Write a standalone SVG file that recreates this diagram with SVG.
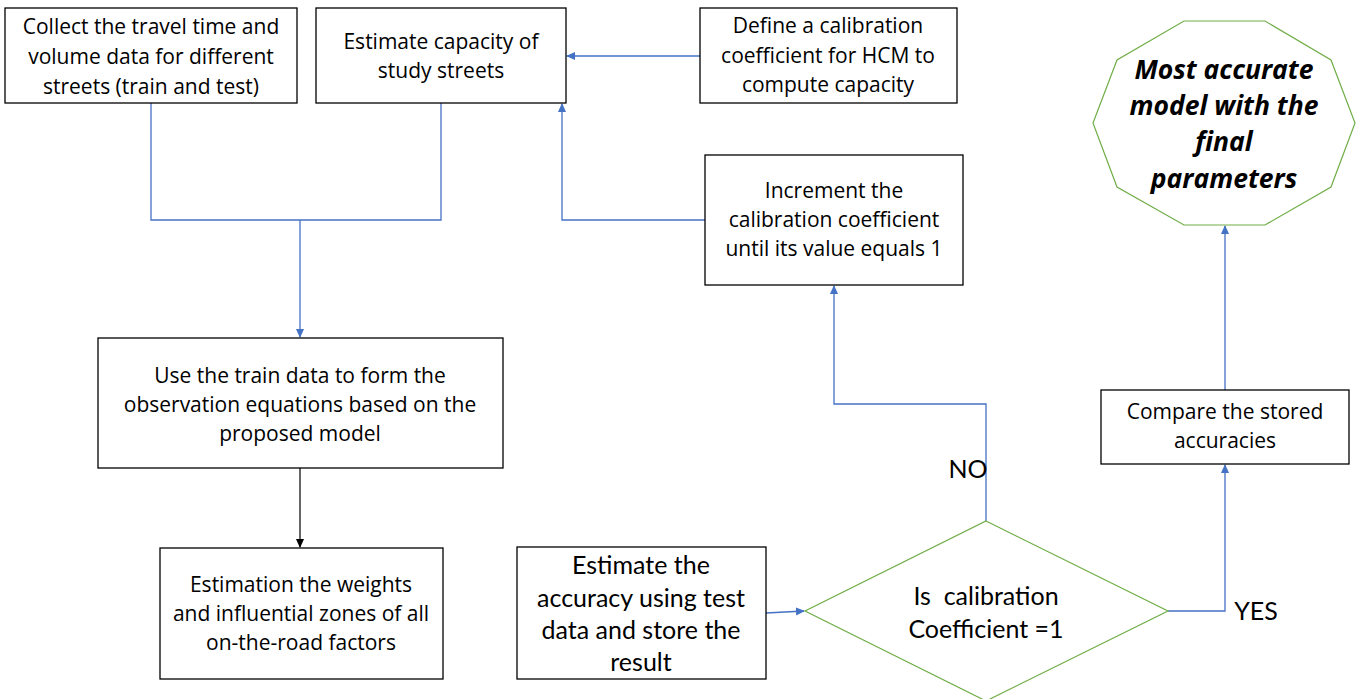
<svg xmlns="http://www.w3.org/2000/svg" width="1360" height="699" viewBox="0 0 1360 699">
<defs>
<style>
.box{fill:#fff;stroke:#000;stroke-width:1.3}
.shape{fill:#fff;stroke:#70ad47;stroke-width:1.2}
.t{font-family:"Open Sans","Liberation Sans",sans-serif;font-size:21px;fill:#000;text-anchor:middle}
.n{font-family:Lato,"Liberation Sans",sans-serif;font-size:25px;fill:#000;text-anchor:middle;white-space:pre}
.b{font-family:"Open Sans","Liberation Sans",sans-serif;font-size:26.5px;font-weight:bold;font-style:italic;fill:#000;text-anchor:middle}
.c{fill:none;stroke:#4472c4;stroke-width:1.3}
.k{fill:none;stroke:#000;stroke-width:1.2}
</style>
<marker id="ab" markerWidth="10" markerHeight="10" refX="8" refY="4" orient="auto" markerUnits="userSpaceOnUse"><path d="M0,0 L9,4 L0,8 z" fill="#4472c4"/></marker>
<marker id="ak" markerWidth="10" markerHeight="10" refX="8" refY="4" orient="auto" markerUnits="userSpaceOnUse"><path d="M0,0 L9,4 L0,8 z" fill="#000"/></marker>
</defs>
<g id="connectors">
<polyline class="c" points="151,103 151,220 441,220 441,103"/>
<polyline class="c" points="300,220 300,337" marker-end="url(#ab)"/>
<polyline class="c" points="700,56 567,56" marker-end="url(#ab)"/>
<polyline class="c" points="705,220 562,220 562,104" marker-end="url(#ab)"/>
<polyline class="k" points="300,468 300,547" marker-end="url(#ak)"/>
<polyline class="c" points="766,613 804,611" marker-end="url(#ab)"/>
<polyline class="c" points="986,521 986,404 834,404 834,286" marker-end="url(#ab)"/>
<polyline class="c" points="1168,611 1225,611 1225,465" marker-end="url(#ab)"/>
<polyline class="c" points="1225,390 1225,226" marker-end="url(#ab)"/>
<text class="n" x="968" y="478">NO</text>
<text class="n" x="1256" y="620">YES</text>
</g>
<g id="collect">
<rect class="box" x="5" y="8" width="292" height="95"/>
<text class="t" x="151" y="34">Collect the travel time and</text>
<text class="t" x="151" y="64">volume data for different</text>
<text class="t" x="151" y="94">streets (train and test)</text>
</g>
<g id="estimate-capacity">
<rect class="box" x="316" y="8" width="250" height="95"/>
<text class="t" x="441" y="49">Estimate capacity of</text>
<text class="t" x="441" y="78">study streets</text>
</g>
<g id="define">
<rect class="box" x="700" y="8" width="257" height="95"/>
<text class="t" x="828" y="33">Define a calibration</text>
<text class="t" x="828" y="63">coefficient for HCM to</text>
<text class="t" x="828" y="92">compute capacity</text>
</g>
<g id="final">
<polygon class="shape" points="1184,21 1265,21 1331,60 1355,123 1331,187 1265,225 1184,225 1117,187 1093,123 1117,60"/>
<text class="b" x="1224" y="79">Most accurate</text>
<text class="b" x="1224" y="115">model with the</text>
<text class="b" x="1224" y="151">final</text>
<text class="b" x="1224" y="188">parameters</text>
</g>
<g id="increment">
<rect class="box" x="705" y="155" width="258" height="130"/>
<text class="t" x="834" y="198">Increment the</text>
<text class="t" x="834" y="227">calibration coefficient</text>
<text class="t" x="834" y="256">until its value equals 1</text>
</g>
<g id="use-train">
<rect class="box" x="98" y="338" width="405" height="130"/>
<text class="t" x="300" y="383">Use the train data to form the</text>
<text class="t" x="300" y="412">observation equations based on the</text>
<text class="t" x="300" y="441">proposed model</text>
</g>
<g id="estimation-weights">
<rect class="box" x="160" y="548" width="283" height="131"/>
<text class="t" x="301" y="592">Estimation the weights</text>
<text class="t" x="301" y="621">and influential zones of all</text>
<text class="t" x="301" y="650">on-the-road factors</text>
</g>
<g id="estimate-accuracy">
<rect class="box" x="517" y="547" width="249" height="132"/>
<text class="n" x="641" y="574">Estimate the</text>
<text class="n" x="641" y="607">accuracy using test</text>
<text class="n" x="641" y="639">data and store the</text>
<text class="n" x="641" y="671">result</text>
</g>
<g id="decision">
<polygon class="shape" points="986,521 1168,611 986,701 805,611"/>
<text class="n" x="986" y="605">Is  calibration</text>
<text class="n" x="986" y="638">Coefficient =1</text>
</g>
<g id="compare">
<rect class="box" x="1101" y="390" width="248" height="74"/>
<text class="t" x="1225" y="419">Compare the stored</text>
<text class="t" x="1225" y="448">accuracies</text>
</g>
</svg>
